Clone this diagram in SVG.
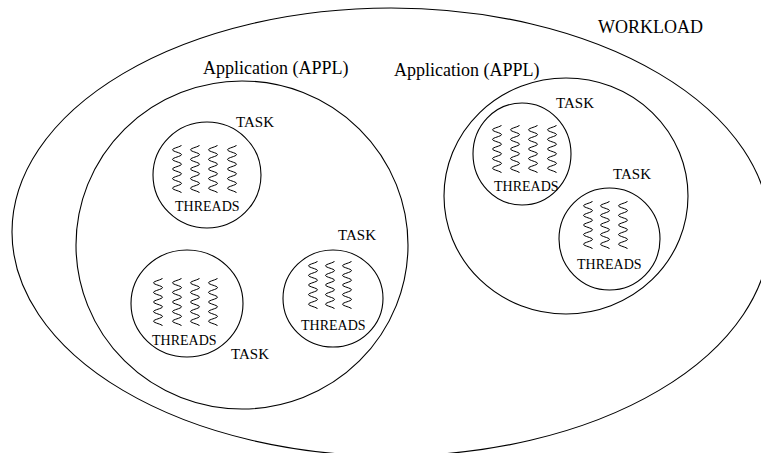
<svg xmlns="http://www.w3.org/2000/svg" xmlns:xlink="http://www.w3.org/1999/xlink" width="761" height="453" viewBox="0 0 761 453">
<style>
.shape{fill:none;stroke:#000;stroke-width:1.1}
.thr{fill:none;stroke:#000;stroke-width:1}
.big{font-family:"Liberation Serif","Times New Roman",serif;font-size:18px;fill:#000}
.task{font-family:"Liberation Serif","Times New Roman",serif;font-size:15px;fill:#000}
.lbl{font-family:"Liberation Serif","Times New Roman",serif;font-size:14px;fill:#000}
</style>
<defs>
<path id="sq" d="M4.5,0 C4.5,1.75 -4.5,3.05 -4.5,4.8 S4.5,7.85 4.5,9.6 S-4.5,12.65 -4.5,14.4 S4.5,17.45 4.5,19.2 S-4.5,22.25 -4.5,24 S4.5,27.05 4.5,28.8 S-4.5,31.85 -4.5,33.6 S4.5,36.65 4.5,38.4 S-4.5,41.45 -4.5,43.2 S4.5,46.25 4.5,48"/>
</defs>
<rect width="761" height="453" fill="#fff"/>
<g id="workload">
<ellipse class="shape" cx="391" cy="232" rx="379" ry="224"/>
<text class="big" x="598" y="33">WORKLOAD</text>
</g>
<g id="app-left">
<ellipse class="shape" cx="242" cy="245" rx="166" ry="164"/>
<text class="big" x="203" y="74">Application (APPL)</text>
</g>
<g id="app-right">
<ellipse class="shape" cx="566" cy="196" rx="122" ry="118"/>
<text class="big" x="394" y="76">Application (APPL)</text>
</g>
<g id="task-1">
<ellipse class="shape" cx="207" cy="175" rx="54" ry="53"/>
<use xlink:href="#sq" href="#sq" class="thr" x="177" y="145"/>
<use xlink:href="#sq" href="#sq" class="thr" x="195" y="145"/>
<use xlink:href="#sq" href="#sq" class="thr" x="213" y="145"/>
<use xlink:href="#sq" href="#sq" class="thr" x="232" y="145"/>
<text class="task" x="236" y="127">TASK</text>
<text class="lbl" x="175" y="211">THREADS</text>
</g>
<g id="task-2">
<ellipse class="shape" cx="187" cy="303.5" rx="56" ry="53.5"/>
<use xlink:href="#sq" href="#sq" class="thr" x="158" y="278"/>
<use xlink:href="#sq" href="#sq" class="thr" x="177" y="278"/>
<use xlink:href="#sq" href="#sq" class="thr" x="195" y="278"/>
<use xlink:href="#sq" href="#sq" class="thr" x="213" y="278"/>
<text class="lbl" x="152" y="345">THREADS</text>
<text class="task" x="231" y="359">TASK</text>
</g>
<g id="task-3">
<ellipse class="shape" cx="333" cy="298.5" rx="50" ry="48.5"/>
<use xlink:href="#sq" href="#sq" class="thr" x="313" y="261"/>
<use xlink:href="#sq" href="#sq" class="thr" x="330" y="261"/>
<use xlink:href="#sq" href="#sq" class="thr" x="347" y="261"/>
<text class="task" x="338" y="240">TASK</text>
<text class="lbl" x="301" y="330">THREADS</text>
</g>
<g id="task-4">
<ellipse class="shape" cx="522" cy="154" rx="49" ry="51"/>
<use xlink:href="#sq" href="#sq" class="thr" x="497" y="125"/>
<use xlink:href="#sq" href="#sq" class="thr" x="515" y="125"/>
<use xlink:href="#sq" href="#sq" class="thr" x="533" y="125"/>
<use xlink:href="#sq" href="#sq" class="thr" x="552" y="125"/>
<text class="task" x="556" y="108">TASK</text>
<text class="lbl" x="494" y="191">THREADS</text>
</g>
<g id="task-5">
<ellipse class="shape" cx="609.5" cy="239" rx="50.5" ry="51"/>
<use xlink:href="#sq" href="#sq" class="thr" x="588" y="201"/>
<use xlink:href="#sq" href="#sq" class="thr" x="605" y="201"/>
<use xlink:href="#sq" href="#sq" class="thr" x="623" y="201"/>
<text class="task" x="613" y="179">TASK</text>
<text class="lbl" x="577" y="269">THREADS</text>
</g>
<g id="connectors"/>
</svg>
